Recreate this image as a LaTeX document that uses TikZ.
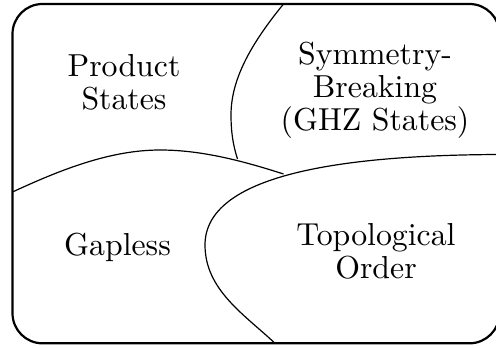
\documentclass[tikz,border=0pt]{standalone}
\usepackage{fontspec}
\setmainfont{lmroman10-regular}[Extension=.otf]
\usepackage{tikz}

\begin{document}
\begin{tikzpicture}[x=0.5pt,y=-0.5pt, every node/.style={font=\fontsize{15.9}{16.5}\selectfont,align=center},
  frame/.style={line width=1.1pt,rounded corners=15pt},
  border/.style={line width=0.6pt}]
\useasboundingbox (0,0) rectangle (496,347);
\clip (0,0) rectangle (496,347);
\draw[frame] (12.5,4) rectangle (499.5,343.3);
% region boundaries
\draw[border] (283.5,4) .. controls (250,45) and (231,80) .. (231,115) .. controls (231,135) and (234,148) .. (237.5,159);
\draw[border] (12.5,192) .. controls (60,170) and (110,150) .. (160,150) .. controls (200,150) and (240,160) .. (283.5,174);
\draw[border] (500,154.5) .. controls (340,155) and (205,175) .. (205,245) .. controls (205,290) and (245,315) .. (275,343.3);
% labels
\node (product) at (124,82.3) {Product\\States};
\node (symbreak) at (375,90.6) {Symmetry-\\Breaking\\(GHZ States)};
\node[anchor=base] (gapless) at (117.5,255) {Gapless};
\node (topo) at (376,251.4) {Topological\\Order};
\end{tikzpicture}
\end{document}
